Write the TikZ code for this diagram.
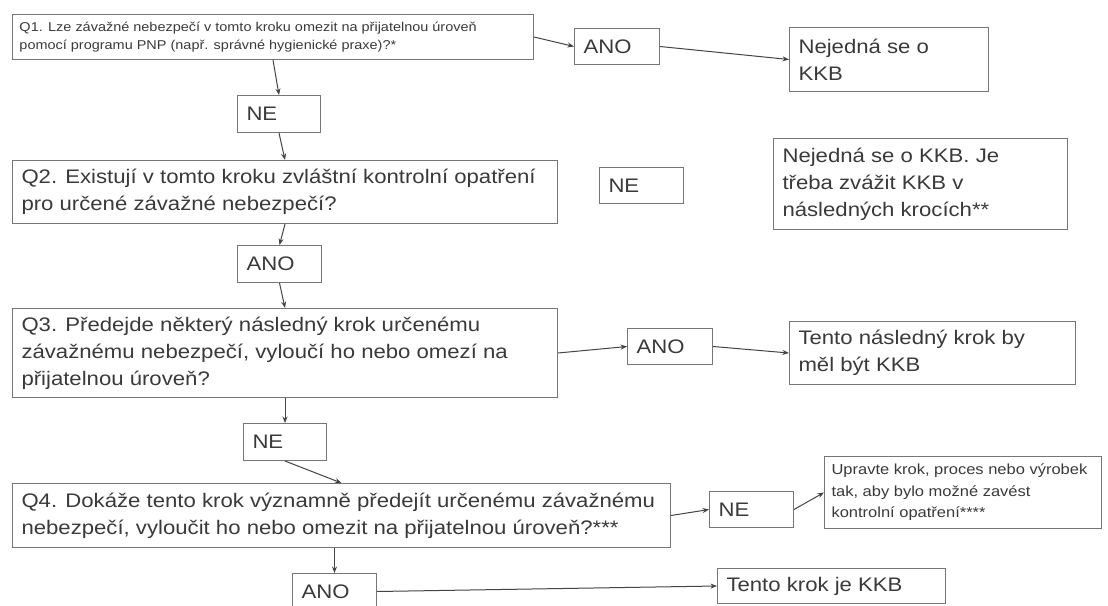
\documentclass[tikz,border=0pt]{standalone}
\usepackage{fontspec}
\setmainfont{Liberation Sans}[FakeStretch=1.13]
\usetikzlibrary{arrows.meta}
\definecolor{txt}{HTML}{3A3A3A}
\definecolor{bord}{HTML}{767676}
\definecolor{arrc}{HTML}{444444}
\tikzset{
  box/.style={draw=bord, line width=1pt, rectangle, anchor=north west, inner xsep=9pt, inner ysep=0pt,
    align=flush left, text=txt, font=\fontsize{19.6}{27}\selectfont},
  smallbox/.style={box, inner xsep=7pt},
  conn/.style={draw=arrc, line width=1pt, -{Stealth[length=6.5pt,width=5pt]}},
}
\begin{document}
\begin{tikzpicture}[x=1pt,y=-1pt]
\clip (0,0) rectangle (1108,605);
\fill[white] (0,0) rectangle (1108,605);
% left column
\node[smallbox, text width=507pt, minimum height=45pt, font=\fontsize{12.8}{18}\selectfont] (q1) at (12,14)
  {\mbox{Q1. Lze závažné nebezpečí v tomto kroku omezit na přijatelnou úroveň}\\\mbox{pomocí programu PNP (např. správné hygienické praxe)?*}};
\node[box, text width=65pt, minimum height=37pt] (ne1) at (237,95) {NE};
\node[box, text width=527pt, minimum height=63pt] (q2) at (12,160)
  {\mbox{Q2. Existují v tomto kroku zvláštní kontrolní opatření}\\\mbox{pro určené závažné nebezpečí?}};
\node[box, text width=66pt, minimum height=37pt] (ano2) at (237,245) {ANO};
\node[box, text width=527pt, minimum height=89pt] (q3) at (12,308)
  {\mbox{Q3. Předejde některý následný krok určenému}\\\mbox{závažnému nebezpečí, vyloučí ho nebo omezí na}\\\mbox{přijatelnou úroveň?}};
\node[box, text width=65pt, minimum height=37pt] (ne3) at (243,423) {NE};
\node[box, text width=640pt, minimum height=64pt] (q4) at (12,483)
  {\mbox{Q4. Dokáže tento krok významně předejít určenému závažnému}\\\mbox{nebezpečí, vyloučit ho nebo omezit na přijatelnou úroveň?***}};
\node[box, text width=66pt, minimum height=36pt] (ano4) at (292,573) {ANO};
% right side
\node[box, text width=67pt, minimum height=36pt] (ano1) at (574,28) {ANO};
\node[box, text width=181pt, minimum height=64pt] (kkb1) at (789,27) {\mbox{Nejedná se o}\\KKB};
\node[box, text width=66pt, minimum height=36pt] (ne2) at (599,167) {NE};
\node[box, text width=276pt, minimum height=91pt] (kkb2) at (773,138)
  {\mbox{Nejedná se o KKB. Je}\\\mbox{třeba zvážit KKB v}\\\mbox{následných krocích**}};
\node[box, text width=67pt, minimum height=36pt] (ano3) at (627,328) {ANO};
\node[box, text width=268pt, minimum height=63pt] (tento1) at (789,321)
  {\mbox{Tento následný krok by}\\\mbox{měl být KKB}};
\node[box, text width=66pt, minimum height=36pt] (ne4) at (709,491) {NE};
\node[smallbox, text width=263pt, minimum height=72pt, font=\fontsize{14.6}{21.5}\selectfont] (upr) at (824,456)
  {\mbox{Upravte krok, proces nebo výrobek}\\\mbox{tak, aby bylo možné zavést}\\\mbox{kontrolní opatření****}};
\node[box, text width=210pt, minimum height=35pt] (tento2) at (717,568) {Tento krok je KKB};
% connectors
\draw[conn] (q1.south) -- (ne1.north);
\draw[conn] (ne1.south) -- (q2.north);
\draw[conn] (q2.south) -- (ano2.north);
\draw[conn] (ano2.south) -- (q3.north);
\draw[conn] (q3.south) -- (ne3.north);
\draw[conn] (ne3.south) -- (q4.north);
\draw[conn] (ano4.north |- q4.south) -- (ano4.north);
\draw[conn] (q1.east) -- (ano1.west);
\draw[conn] (ano1.east) -- (kkb1.west);
\draw[conn] (q3.east) -- (ano3.west);
\draw[conn] (ano3.east) -- (tento1.west);
\draw[conn] (q4.east) -- (ne4.west);
\draw[conn] (ne4.east) -- (upr.west);
\draw[conn] (ano4.east) -- (tento2.west);
\end{tikzpicture}
\end{document}
